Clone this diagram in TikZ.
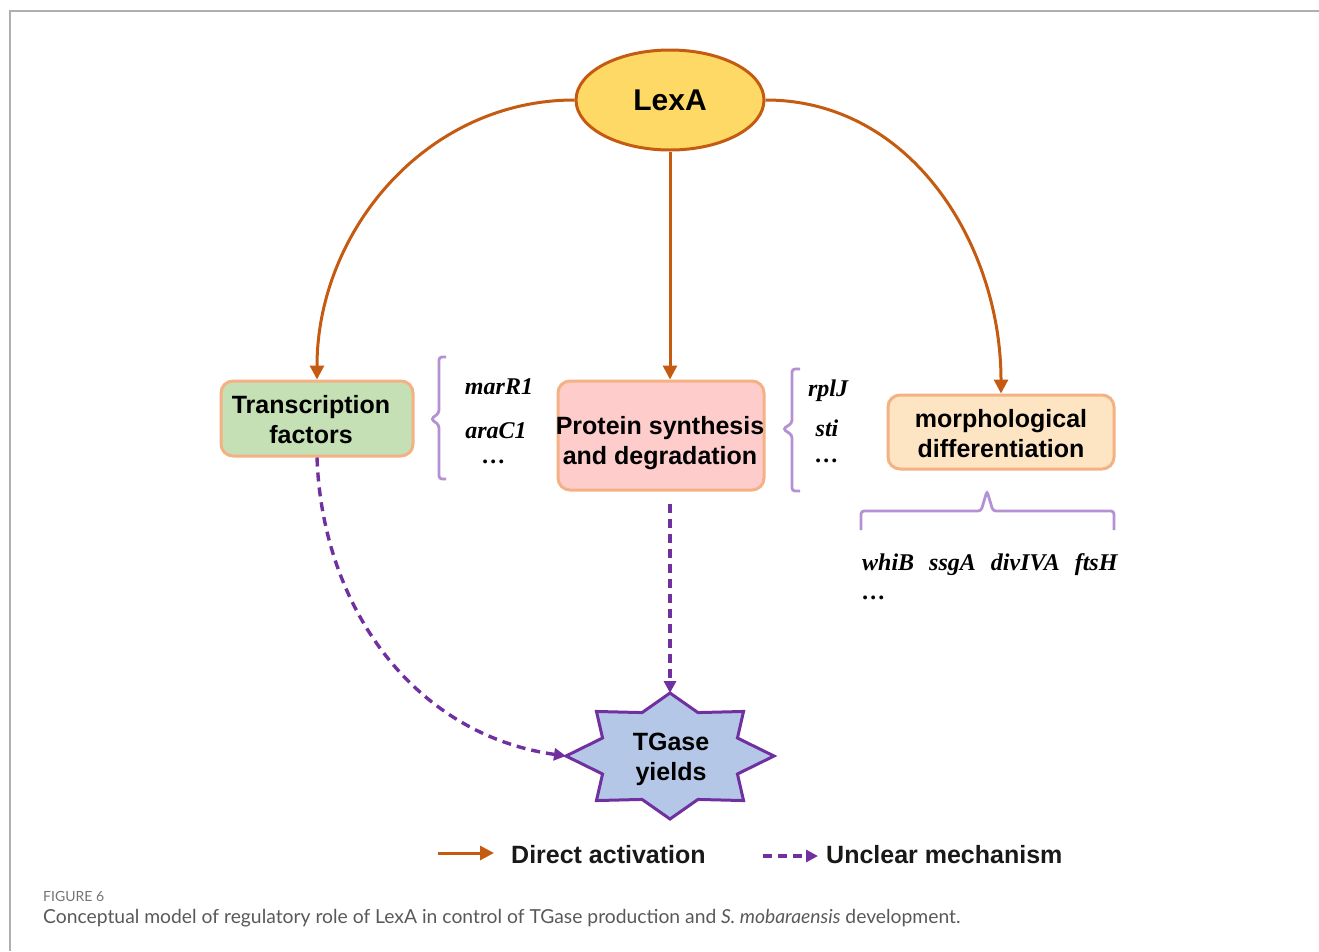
\documentclass[tikz,border=0pt]{standalone}
\usepackage{fontspec}
\setmainfont{Liberation Sans}
\newfontfamily\tnr{Liberation Serif}
\newfontfamily\capfont{Lato}
\usetikzlibrary{arrows.meta,shapes.geometric,calc}
\definecolor{arrOr}{RGB}{197,90,17}
\definecolor{lexFill}{RGB}{255,217,102}
\definecolor{boxBd}{RGB}{244,177,131}
\definecolor{tfFill}{RGB}{197,224,180}
\definecolor{psFill}{RGB}{255,204,204}
\definecolor{mdFill}{RGB}{253,229,196}
\definecolor{starFill}{RGB}{180,199,231}
\definecolor{purp}{RGB}{112,48,160}
\definecolor{brkCol}{RGB}{180,145,210}
\definecolor{frameCol}{RGB}{175,175,175}
\tikzset{
  boxnode/.style={draw=boxBd, line width=3pt, rounded corners=12pt, align=center,
    font=\bfseries\fontsize{25}{30}\selectfont, inner sep=0pt},
  boxtext/.style={align=center, font=\bfseries\fontsize{25}{30}\selectfont, inner sep=0pt},
  direct/.style={draw=arrOr, line width=3pt, -{Triangle[length=14pt,width=14pt]}},
  unclear/.style={draw=purp, line width=3.4pt, dash pattern=on 9pt off 6pt,
    -{Triangle[length=12pt,width=12pt]}},
  brk/.style={draw=brkCol, line width=2.8pt, rounded corners=3pt},
  gene/.style={font=\tnr\bfseries\itshape\fontsize{24}{28}\selectfont, inner sep=0pt},
  legtext/.style={font=\bfseries\fontsize{25}{30}\selectfont, text=black!90, inner sep=0pt, anchor=west},
}
\begin{document}
\begin{tikzpicture}[x=1pt,y=-1pt]
\useasboundingbox (0,0) rectangle (1319,951);
% frame
\draw[frameCol, line width=1.5pt] (10,951) -- (10,11) -- (1319,11);

% nodes
\node[ellipse, draw=arrOr, fill=lexFill, line width=3pt, minimum width=188pt, minimum height=100pt,
  font=\bfseries\fontsize{30}{34}\selectfont, inner sep=0pt] (lexa) at (670,100) {LexA};
\node[boxnode, fill=tfFill, minimum width=192pt, minimum height=75pt] (tf) at (317,418.5) {};
\node[boxtext] (tft) at (311,419.5) {Transcription\\factors};
\node[boxnode, fill=psFill, minimum width=206pt, minimum height=109pt] (ps) at (661,435.5) {};
\node[boxtext] (pst) at (660,443) {Protein synthesis\\and degradation};
\node[boxnode, fill=mdFill, minimum width=226pt, minimum height=74pt] (md) at (1001,432) {};
\node[boxtext] (mdt) at (1001,434) {morphological\\differentiation};

% star
\begin{scope}[shift={(670,756)}]
\draw[draw=purp, fill=starFill, line width=3pt, line join=miter]
  (0:104 and 63) -- (22.5:73 and 47) -- (45:104 and 63) -- (67.5:73 and 47) --
  (90:104 and 63) -- (112.5:73 and 47) -- (135:104 and 63) -- (157.5:73 and 47) --
  (180:104 and 63) -- (202.5:73 and 47) -- (225:104 and 63) -- (247.5:73 and 47) --
  (270:104 and 63) -- (292.5:73 and 47) -- (315:104 and 63) -- (337.5:73 and 47) -- cycle;
\coordinate (tgtop) at (270:104 and 63);
\coordinate (tgleft) at (180:104 and 63);
\end{scope}
\node[align=center, font=\bfseries\fontsize{25}{30}\selectfont, inner sep=0pt] (tg) at (671,759) {TGase\\yields};

% direct arrows
\draw[direct] (lexa.west) to[out=180, in=90] (tf.north);
\draw[direct] (lexa.east) to[out=0, in=90] (md.north);
\draw[direct] (lexa.south) -- (lexa.south |- ps.north);

% unclear arrows
\draw[unclear] (tf.south) to[out=-88, in=172] (tgleft);
\draw[unclear] ([yshift=-12pt]ps.south -| tgtop) -- (tgtop);

% brackets
\draw[brk] (446,357) -- (439,357) -- (439,413) -- (431,419) -- (439,425) -- (439,479) -- (446,479);
\draw[brk] (800,369) -- (792,369) -- (792,423) -- (783,429) -- (792,435) -- (792,491) -- (800,491);
\draw[brk] (861,530) -- (861,511) -- (981,511) -- (987,491) -- (993,511) -- (1114,511) -- (1114,530);

% genes
\node[gene] (g1) at (499,387) {marR1};
\node[gene] (g2) at (496,431) {araC1};
\node[gene] (g3) at (494,462) {\dots};
\node[gene] (g4) at (828,391) {rplJ};
\node[gene] (g5) at (827,428) {sti};
\node[gene] (g6) at (827,461) {\dots};
\node[gene, anchor=west] (g7) at (862,565) {whiB\hspace{15pt}ssgA\hspace{15pt}divIVA\hspace{15pt}ftsH};
\node[gene, anchor=west] (g8) at (862,598) {\dots};

% legend
\coordinate (l1a) at (438,853);
\coordinate (l1b) at (494,853);
\draw[direct] (l1a) -- (l1b);
\node[legtext] (lt1) at (511,855) {Direct activation};
\coordinate (l2a) at (763,856);
\coordinate (l2b) at (818,856);
\draw[unclear] (l2a) -- (l2b);
\node[legtext] (lt2) at (826,855) {Unclear mechanism};

% caption
\node[anchor=west, inner sep=0pt, text=black!55, font=\capfont\fontsize{14}{16}\selectfont] (fig) at (43,896) {FIGURE 6};
\node[anchor=west, inner sep=0pt, text=black!65, font=\capfont\fontsize{19.3}{22}\selectfont] (cap) at (43,918)
  {Conceptual model of regulatory role of LexA in control of TGase production and \textit{S. mobaraensis} development.};
\end{tikzpicture}
\end{document}
